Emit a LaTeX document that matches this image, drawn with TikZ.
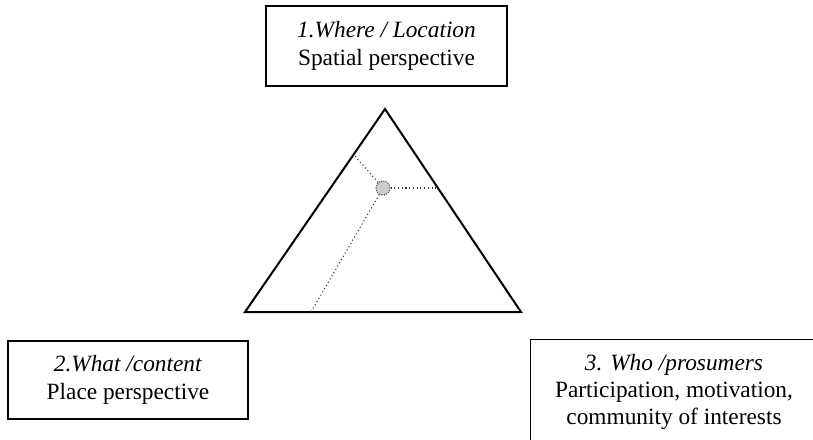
\documentclass[tikz,border=0pt]{standalone}
\usepackage{fontspec}
\setmainfont{Liberation Serif}
\usetikzlibrary{calc}
\tikzset{%
        box/.style = {
            draw = black,
            line width = 1pt,
            fill = white,
            align = center,
            inner sep = 0pt,
            font = \fontsize{17.5}{21}\selectfont
        },
        guide/.style = {
            dotted,
            line width = 0.8pt,
            draw = black!80
        }
}

\begin{document}
\begin{tikzpicture}[x=0.75pt, y=-0.75pt]
            \useasboundingbox (0, 0) rectangle (813, 439);
            % the three perspectives
            \node[box, minimum width=180.75pt, minimum height=60pt] (where) at (386.5, 46)
                {\textit{1.Where / Location}\\Spatial perspective};
            \node[box, minimum width=180pt, minimum height=58.5pt] (what) at (128, 380)
                {\textit{2.What /content}\\Place perspective};
            \node[box, minimum width=215pt, minimum height=79pt, font=\fontsize{17.5}{20}\selectfont] (who) at (674, 392)
                {\textit{3. Who /prosumers}\\Participation, motivation,\\community of interests};
            % triangle
            \coordinate (apex) at (385, 109);
            \coordinate (bl) at (245, 312);
            \coordinate (br) at (521, 312);
            \draw[line width=1.5pt] (apex) -- (bl) -- (br) -- cycle;
            % point inside and its projections
            \coordinate (pl) at (354, 155);
            \coordinate (pr) at (437.5, 188);
            \coordinate (pb) at (311, 312);
            \node[circle, draw=black!75, densely dotted, line width=0.8pt, fill=black!20, minimum size=10.5pt, inner sep=0pt] (mid) at (383, 188) {};
            \path[guide]
                (mid) edge (pl)
                (mid) edge (pr)
                (mid) edge (pb)
                ;
        \end{tikzpicture}
\end{document}
